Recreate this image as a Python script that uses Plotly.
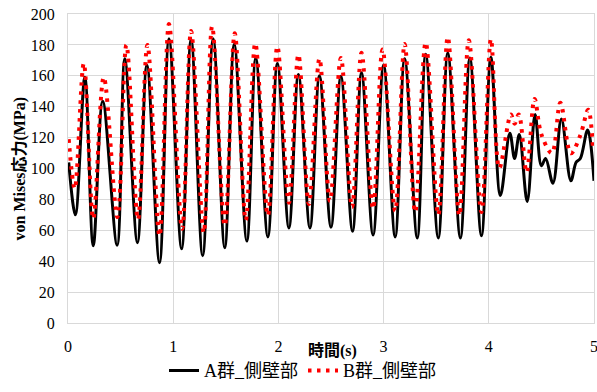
import plotly.graph_objects as go

# Series A (black solid) - extrema
tA = [0.007, 0.07, 0.16, 0.24, 0.33, 0.467, 0.54, 0.66, 0.75, 0.87, 0.96, 1.08, 1.17, 1.28, 1.38, 1.49,
      1.58, 1.70, 1.785, 1.90, 1.99, 2.10, 2.19, 2.30, 2.39, 2.50, 2.594, 2.705, 2.79, 2.90, 3.00, 3.11,
      3.20, 3.32, 3.40, 3.52, 3.61, 3.73, 3.82, 3.93, 4.02, 4.11, 4.20, 4.245, 4.29, 4.365, 4.44, 4.50,
      4.54, 4.61, 4.69, 4.78, 4.83, 4.87, 4.94, 5.0]
vA = [104, 70, 159, 50, 143.6, 50.4, 171, 52, 167, 39, 184, 48, 183.7, 43.5, 184, 48.7,
      180.5, 53, 171.5, 55.7, 168, 61.5, 160.8, 61.5, 160, 62, 159.7, 59.4, 162, 57, 167, 55.7,
      171, 55, 174, 55, 174.7, 55, 171.5, 56.4, 172, 82.5, 122.8, 106.5, 122, 78.7, 135, 101.8,
      106.5, 90.5, 132, 92, 104, 106.5, 125, 92]

# Series B (red dotted)
tB = [0.007, 0.064, 0.15, 0.24, 0.34, 0.47, 0.555, 0.665, 0.755, 0.87, 0.96, 1.085, 1.17, 1.29, 1.37, 1.49,
      1.585, 1.69, 1.78, 1.90, 1.99, 2.10, 2.19, 2.29, 2.39, 2.49, 2.594, 2.70, 2.79, 2.90, 2.99, 3.11,
      3.20, 3.30, 3.40, 3.52, 3.61, 3.72, 3.81, 3.93, 4.02, 4.10, 4.21, 4.245, 4.285, 4.36, 4.435, 4.50,
      4.60, 4.68, 4.78, 4.87, 4.945, 4.99]
vB = [119, 87, 168, 67.5, 159, 68.6, 180, 67, 180, 56.4, 193.5, 61, 189, 58.5, 192, 63,
      187.5, 66.5, 181, 69.6, 179, 77.8, 173.6, 77, 171, 79, 171.5, 75, 175, 74, 177, 72.5,
      180.6, 71.8, 181.5, 70, 185, 69.6, 183, 71.8, 183.7, 100.3, 135, 129, 135, 97.5, 145, 122,
      110, 142.5, 109.8, 121.5, 138, 113]

xticks = [0, 1, 2, 3, 4, 5]
yticks = [0, 20, 40, 60, 80, 100, 120, 140, 160, 180, 200]

serif = "'Liberation Serif', 'Noto Sans CJK JP', serif"

L, R, T, B = 68, 3, 14, 67
PW, PH = 597 - L - R, 392 - T - B

fig = go.Figure()
fig.add_trace(go.Scatter(x=tA, y=vA, mode="lines", name="A群_側壁部",
                         line=dict(color="black", width=3, shape="spline", smoothing=1.0)))
fig.add_trace(go.Scatter(x=tB, y=vB, mode="lines", name="B群_側壁部",
                         line=dict(color="#ff0000", width=4, dash="3.5px,5.5px", shape="spline", smoothing=1.0)))

fig.update_layout(
    width=597, height=392,
    margin=dict(l=L, r=R, t=T, b=B),
    paper_bgcolor="white", plot_bgcolor="white",
    font=dict(family=serif, size=16, color="black"),
    showlegend=True,
    legend=dict(orientation="h", x=(303 - L) / PW, xanchor="center", y=(325 - 373) / PH, yanchor="middle",
                font=dict(size=18, family=serif), itemwidth=30, tracegroupgap=0),
    xaxis=dict(range=[0, 5], tickvals=xticks, showgrid=True, gridcolor="#d9d9d9", gridwidth=1,
               showline=True, linecolor="#d9d9d9", mirror=True, zeroline=False, automargin=False,
               ticks="outside", ticklen=9, tickcolor="rgba(0,0,0,0)", ticklabeloverflow="allow",
               tickfont=dict(size=16, family=serif)),
    yaxis=dict(range=[0, 200], tickvals=yticks, showgrid=True, gridcolor="#d9d9d9", gridwidth=1,
               showline=True, linecolor="#d9d9d9", mirror=True, zeroline=False, automargin=False,
               ticks="outside", ticklen=9, tickcolor="rgba(0,0,0,0)",
               tickfont=dict(size=16, family=serif)),
    annotations=[
        dict(text="<b>時間(s)</b>", xref="paper", yref="paper", x=(332 - L) / PW, y=(325 - 353) / PH,
             xanchor="center", yanchor="middle", showarrow=False, font=dict(size=16, family=serif)),
        dict(text="<b>von Mises応力(MPa)</b>", xref="paper", yref="paper", x=(19 - L) / PW, y=0.5,
             xanchor="center", yanchor="middle", textangle=-90, showarrow=False,
             font=dict(size=16, family=serif)),
    ],
)

fig.write_html("out.html")
